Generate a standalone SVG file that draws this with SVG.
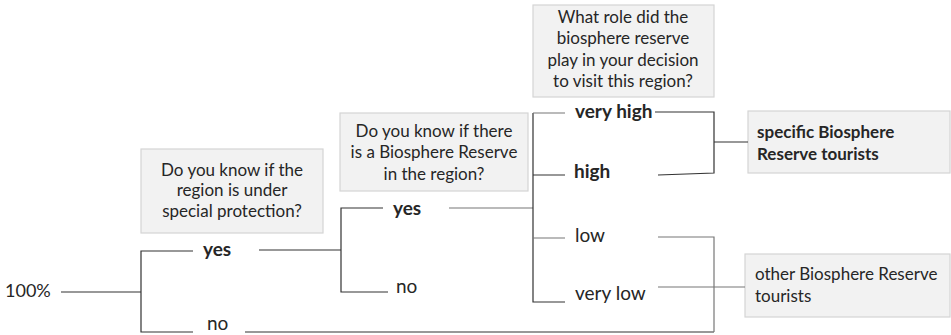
<svg xmlns="http://www.w3.org/2000/svg" width="951" height="335" viewBox="0 0 951 335">
<style>
text{font-family:Lato,"Open Sans","Liberation Sans",sans-serif;font-size:17px;fill:#262626}
.b{font-weight:bold}
.q{text-anchor:middle}
.lb{font-size:19px}
.box{fill:#f2f2f2;stroke:#d4d4d4;stroke-width:1.2}
.ln{fill:none;stroke:#333;stroke-width:1.2}
.lg{fill:none;stroke:#777;stroke-width:1.2}
</style>
<g id="q1"><rect class="box" x="141" y="149" width="182" height="84"/>
<text class="q" x="232" y="176">Do you know if the</text>
<text class="q" x="232" y="196">region is under</text>
<text class="q" x="232" y="217">special protection?</text></g>
<g id="q2"><rect class="box" x="340" y="113" width="188" height="78"/>
<text class="q" x="434" y="137">Do you know if there</text>
<text class="q" x="434" y="158">is a Biosphere Reserve</text>
<text class="q" x="434" y="180">in the region?</text></g>
<g id="q3"><rect class="box" x="533" y="5" width="181" height="92"/>
<text class="q" x="623" y="23">What role did the</text>
<text class="q" x="623" y="44">biosphere reserve</text>
<text class="q" x="623" y="66">play in your decision</text>
<text class="q" x="623" y="87">to visit this region?</text></g>
<g id="r1"><rect class="box" x="748" y="111" width="202" height="62"/>
<text class="b" x="757" y="138">specific Biosphere</text>
<text class="b" x="757" y="160">Reserve tourists</text></g>
<g id="r2"><rect class="box" x="745" y="254" width="205" height="63"/>
<text x="755" y="280">other Biosphere Reserve</text>
<text x="755" y="302">tourists</text></g>
<g id="start"><text x="5" y="297" style="font-size:18px">100%</text></g>
<g id="labels">
<text class="b lb" x="203" y="256">yes</text>
<text class="lb" x="207" y="330">no</text>
<text class="b lb" x="393" y="215">yes</text>
<text class="lb" x="396" y="293">no</text>
<text class="b lb" x="575" y="118">very high</text>
<text class="b lb" x="574" y="178">high</text>
<text class="lb" x="575" y="242">low</text>
<text class="lb" x="575" y="300">very low</text>
</g>
<g id="connectors">
<path class="ln" d="M61 292H141M193 251H141V332H193M245 332H714"/>
<path class="ln" d="M259 250H341M383 208H341V292H388"/>
<path class="lg" d="M449 208H533"/>
<path class="ln" d="M533 113V302H565M533 175H565"/>
<path class="lg" d="M565 113H533M565 238H533"/>
<path class="ln" d="M655 112H714V173L658 175M714 142H748"/>
<path class="lg" d="M658 237H714V332M658 287H745"/>
</g>
</svg>
